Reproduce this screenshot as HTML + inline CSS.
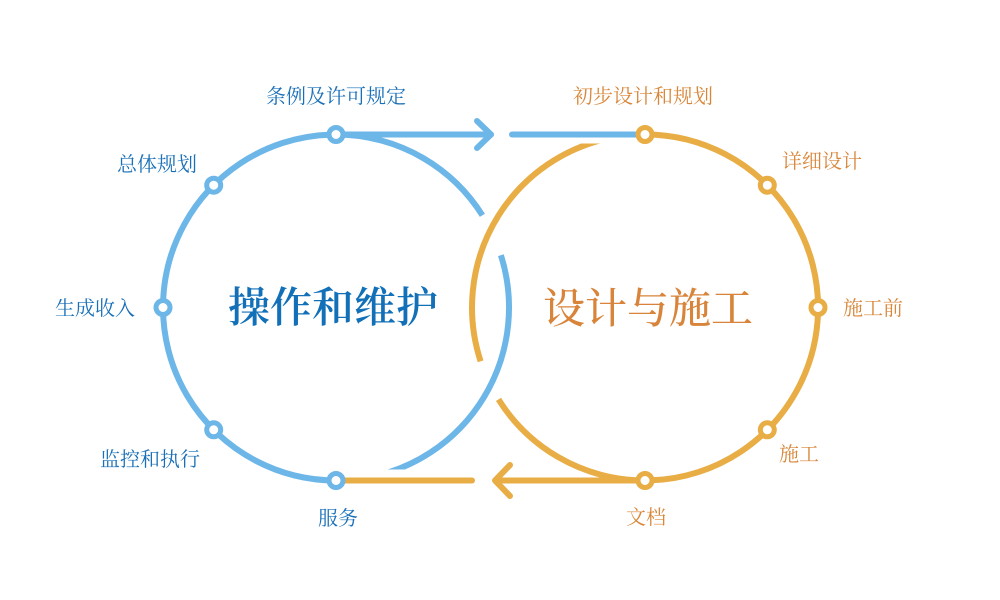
<!DOCTYPE html>
<html>
<head>
<meta charset="utf-8">
<style>
  html, body { margin: 0; padding: 0; background: #ffffff; }
  body { width: 1000px; height: 600px; overflow: hidden; }
  svg { display: block; }
  .lbl { font-family: "Liberation Serif", "Noto Serif CJK SC", serif; font-size: 20px; }
  .b { fill: #1a70b8; }
  .o { fill: #d8873a; }
</style>
</head>
<body>
<svg width="1000" height="600" viewBox="0 0 1000 600" xmlns="http://www.w3.org/2000/svg">
  <defs>
    <clipPath id="clipBlue">
      <rect x="0" y="0" width="1000" height="469.5"/>
    </clipPath>
    <clipPath id="clipOrange">
      <rect x="0" y="143.5" width="1000" height="500"/>
    </clipPath>
  </defs>

  <!-- Blue circle arcs -->
  <path d="M482.4 215.3 A173 173 0 1 0 336 480.5" fill="none" stroke="#6db6e8" stroke-width="6"/>
  <path d="M500.9 255.2 A173 173 0 0 1 366 477.9" fill="none" stroke="#6db6e8" stroke-width="6" clip-path="url(#clipBlue)"/>

  <!-- Orange circle arcs -->
  <path d="M645 134.5 A173 173 0 1 1 498.5 399.4" fill="none" stroke="#e8ad45" stroke-width="6"/>
  <path d="M480.6 361.3 A173 173 0 0 1 620.9 136.2" fill="none" stroke="#e8ad45" stroke-width="6" clip-path="url(#clipOrange)"/>

  <!-- Top blue connector with arrow -->
  <path d="M336 134.5 L491 134.5" fill="none" stroke="#6db6e8" stroke-width="6" stroke-linecap="round"/>
  <path d="M477 121 L491 134.5 L477 148" fill="none" stroke="#6db6e8" stroke-width="6" stroke-linecap="round" stroke-linejoin="round"/>
  <path d="M512 134.5 L645 134.5" fill="none" stroke="#6db6e8" stroke-width="6" stroke-linecap="round"/>

  <!-- Bottom orange connector with arrow -->
  <path d="M645 480.5 L496 480.5" fill="none" stroke="#e8ad45" stroke-width="6" stroke-linecap="round"/>
  <path d="M510 465 L495 480.5 L510 496" fill="none" stroke="#e8ad45" stroke-width="6" stroke-linecap="round" stroke-linejoin="round"/>
  <path d="M472 480.5 L336 480.5" fill="none" stroke="#e8ad45" stroke-width="6" stroke-linecap="round"/>

  <!-- Blue nodes -->
  <g fill="#ffffff" stroke="#6db6e8" stroke-width="5">
    <circle cx="336" cy="134.5" r="7"/>
    <circle cx="213.7" cy="185.2" r="7"/>
    <circle cx="163" cy="307.5" r="7"/>
    <circle cx="213.7" cy="429.8" r="7"/>
    <circle cx="336" cy="480.5" r="7"/>
  </g>
  <!-- Orange nodes -->
  <g fill="#ffffff" stroke="#e8ad45" stroke-width="5">
    <circle cx="645" cy="134.5" r="7"/>
    <circle cx="767.3" cy="185.2" r="7"/>
    <circle cx="818" cy="307.5" r="7"/>
    <circle cx="767.3" cy="429.8" r="7"/>
    <circle cx="645" cy="480.5" r="7"/>
  </g>

  <!-- Blue labels -->
  <text class="lbl b" x="336" y="97" text-anchor="middle" dominant-baseline="central">条例及许可规定</text>
  <text class="lbl b" x="197" y="165" text-anchor="end" dominant-baseline="central">总体规划</text>
  <text class="lbl b" x="135" y="309" text-anchor="end" dominant-baseline="central">生成收入</text>
  <text class="lbl b" x="200" y="460" text-anchor="end" dominant-baseline="central">监控和执行</text>
  <text class="lbl b" x="338" y="519" text-anchor="middle" dominant-baseline="central">服务</text>

  <!-- Orange labels -->
  <text class="lbl o" x="643" y="97" text-anchor="middle" dominant-baseline="central">初步设计和规划</text>
  <text class="lbl o" x="782" y="162" text-anchor="start" dominant-baseline="central">详细设计</text>
  <text class="lbl o" x="843" y="309" text-anchor="start" dominant-baseline="central">施工前</text>
  <text class="lbl o" x="779" y="455" text-anchor="start" dominant-baseline="central">施工</text>
  <text class="lbl o" x="646" y="518" text-anchor="middle" dominant-baseline="central">文档</text>

  <!-- Titles -->
  <text x="333" y="309" text-anchor="middle" dominant-baseline="central"
        style="font-family: 'Liberation Serif', 'Noto Serif CJK SC', serif; font-size: 42px; font-weight: 600;"
        fill="#1270b8">操作和维护</text>
  <text x="648" y="310" text-anchor="middle" dominant-baseline="central"
        style="font-family: 'Liberation Serif', 'Noto Serif CJK SC', serif; font-size: 42px; font-weight: 500;"
        fill="#d8843a">设计与施工</text>
</svg>
</body>
</html>
